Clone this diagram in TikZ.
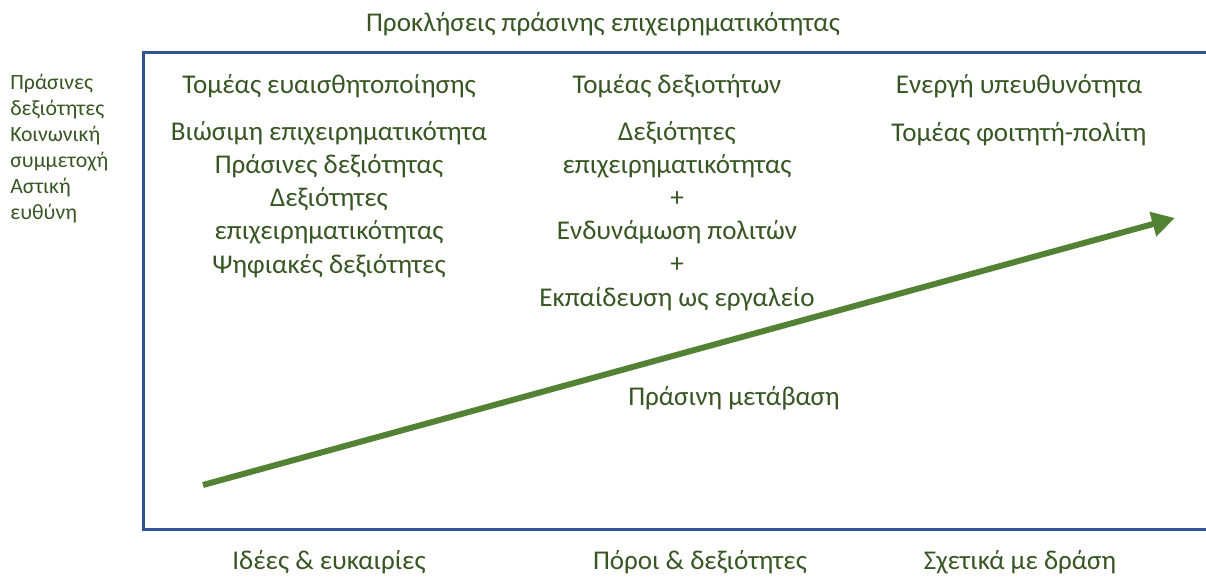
\documentclass[tikz,border=0pt]{standalone}
\usepackage{fontspec}
\setmainfont{Carlito}
\usetikzlibrary{arrows.meta}
\definecolor{txtgreen}{HTML}{375623}
\definecolor{arrgreen}{HTML}{548235}
\definecolor{frameblue}{HTML}{2F5597}
\begin{document}
\begin{tikzpicture}[x=0.2mm,y=-0.2mm,
	    lbl/.style={text=txtgreen,font=\fontsize{15.4}{18.8}\selectfont,align=center,anchor=base,inner sep=0pt},
	    side/.style={text=txtgreen,font=\fontsize{12.4}{14.7}\selectfont,align=left,anchor=base west,inner sep=0pt}]
	    \useasboundingbox (0,0) rectangle (1206,576);
	    \draw[frameblue,line width=0.6mm] (1206,52) -- (143,52) -- (143,529) -- (1206,529);
	    \node[lbl] (title) at (603,31) {Προκλήσεις πράσινης επιχειρηματικότητας};
	    \node[side] (skills) at (10,219) {Πράσινες\\δεξιότητες\\Κοινωνική\\συμμετοχή\\Αστική\\ευθύνη};
	    \node[lbl] (aware) at (329,93) {Τομέας ευαισθητοποίησης};
	    \node[lbl] (awarelist) at (329,273) {Βιώσιμη επιχειρηματικότητα\\Πράσινες δεξιότητας\\Δεξιότητες\\επιχειρηματικότητας\\Ψηφιακές δεξιότητες};
	    \node[lbl] (abil) at (677,93) {Τομέας δεξιοτήτων};
	    \node[lbl] (abillist) at (677,306) {Δεξιότητες\\επιχειρηματικότητας\\+\\Ενδυνάμωση πολιτών\\+\\Εκπαίδευση ως εργαλείο};
	    \node[lbl] (resp) at (1019,93) {Ενεργή υπευθυνότητα};
	    \node[lbl] (citizen) at (1019,141.7) {Τομέας φοιτητή-πολίτη};
	    \node[lbl] (trans) at (734,405) {Πράσινη μετάβαση};
	    \node[lbl] (ideas) at (329,569) {Ιδέες \& ευκαιρίες};
	    \node[lbl] (means) at (700,569) {Πόροι \& δεξιότητες};
	    \node[lbl] (action) at (1020,569) {Σχετικά με δράση};
	    \coordinate (start) at (203,485);
	    \coordinate (end) at (1175,218);
	    \draw[arrgreen,line width=1.2mm,-{Triangle[length=4.6mm,width=4.8mm]}] (start) -- (end);
	\end{tikzpicture}
\end{document}
